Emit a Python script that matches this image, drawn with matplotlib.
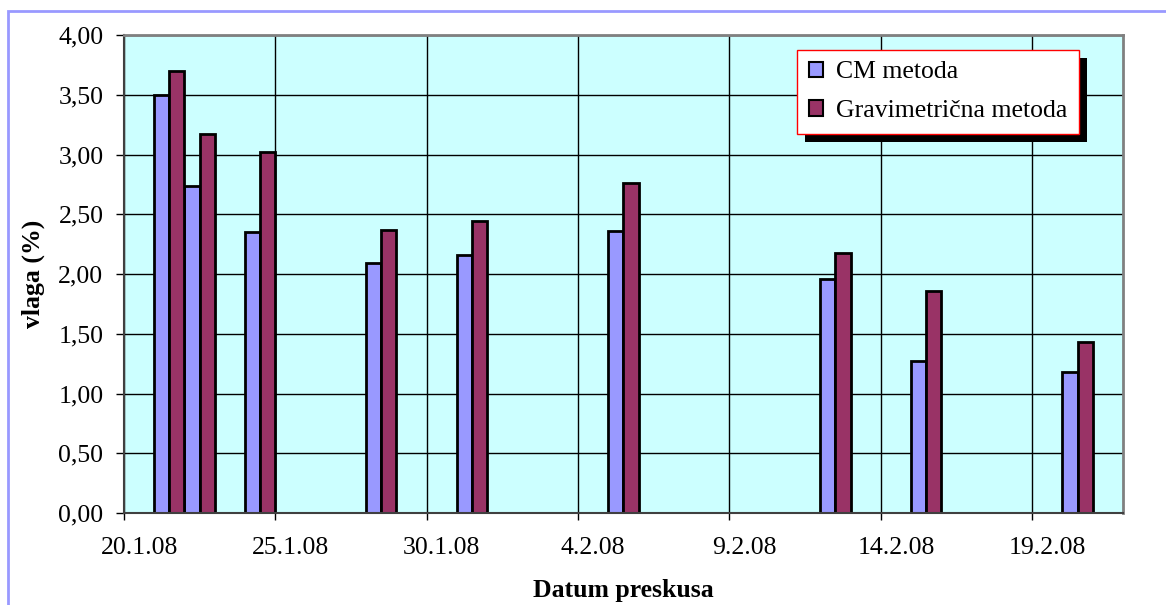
import matplotlib
matplotlib.use("Agg")
import matplotlib.pyplot as plt
import matplotlib.patheffects as pe
from matplotlib.patches import Rectangle
import matplotlib.dates as mdates
import pandas as pd

# datumi preskusa in izmerjena vlaga (%)
datumi = ["21.1.08", "22.1.08", "24.1.08", "28.1.08", "31.1.08",
          "5.2.08", "12.2.08", "15.2.08", "20.2.08"]
cm_metoda = [3.50, 2.74, 2.35, 2.09, 2.16, 2.36, 1.96, 1.27, 1.18]
grav_metoda = [3.70, 3.17, 3.02, 2.37, 2.44, 2.76, 2.18, 1.86, 1.43]
oznake_x = ["20.1.08", "25.1.08", "30.1.08", "4.2.08", "9.2.08", "14.2.08", "19.2.08"]
obseg_x = ["20.1.08", "22.2.08"]
oznake_y = [0, 0.5, 1.0, 1.5, 2.0, 2.5, 3.0, 3.5, 4.0]

plt.rcParams['font.family'] = ['Liberation Serif', 'DejaVu Serif']
fs = 18.5

def v_num(s):
    return mdates.date2num(pd.to_datetime(s, format="%d.%m.%y"))

x = [v_num(d) for d in datumi]
tx = [v_num(d) for d in oznake_x]

fig = plt.figure(figsize=(11.66, 6.05), dpi=100)
ax = fig.add_axes([0.1063, 0.152, 0.8568, 0.790])
ax.set_facecolor('#CCFFFF')
ax.set_axisbelow(True)

w = 0.5
ax.bar([v + w / 2 for v in x], cm_metoda, width=w, color='#9999FF',
       edgecolor='black', linewidth=2, label='CM metoda')
ax.bar([v + 1.5 * w for v in x], grav_metoda, width=w, color='#993366',
       edgecolor='black', linewidth=2, label='Gravimetrična metoda')

ax.set_xlim(v_num(obseg_x[0]), v_num(obseg_x[1]))
ax.set_ylim(0, 4)

# glavne oznake na mejah dni, napisi na sredini dneva
ax.set_xticks(tx)
ax.set_xticklabels([])
ax.set_xticks([v + 0.5 for v in tx], minor=True)
ax.set_xticklabels(oznake_x, minor=True, fontsize=fs)
ax.tick_params(axis='x', which='minor', length=0, pad=17)
ax.tick_params(axis='x', which='major', length=5, width=1, direction='out')

ax.set_yticks(oznake_y)
ax.set_yticklabels([f"{v:.2f}".replace('.', ',') for v in oznake_y], fontsize=fs)
ax.tick_params(axis='y', length=5.8, width=1, direction='out', pad=9)

ax.grid(True, which='major', color='black', linewidth=1)

for s in ['left', 'bottom']:
    ax.spines[s].set_color('#404040')
    ax.spines[s].set_linewidth(1.5)
for s in ['top', 'right']:
    ax.spines[s].set_color('#808080')
    ax.spines[s].set_linewidth(2)

ax.set_ylabel('vlaga (%)', fontsize=fs, fontweight='bold', va='center')
ax.yaxis.set_label_coords(-0.091, 0.5)
ax.set_xlabel('Datum preskusa', fontsize=fs, fontweight='bold', va='center')
ax.xaxis.set_label_coords(0.5, -0.162)

leg = ax.legend(loc='upper left', bbox_to_anchor=(0.674, 0.969), fontsize=fs,
                fancybox=False, framealpha=1, edgecolor='red',
                handlelength=0.55, handleheight=0.55, handletextpad=0.5,
                labelspacing=0.65, borderpad=0.45, borderaxespad=0)
leg.get_frame().set_linewidth(1)
leg.get_frame().set_path_effects([
    pe.SimplePatchShadow(offset=(5.8, -5.8), shadow_rgbFace='black', alpha=1),
    pe.Normal()])
for h in leg.legend_handles:
    h.set_linewidth(1.5)

# okvir slike
fig.add_artist(Rectangle((8 / 1166, -0.1), 1.2, 1.1 - 11 / 605, transform=fig.transFigure,
                         fill=False, edgecolor='#9999FF', linewidth=2))

fig.savefig('out.png', dpi=100)
